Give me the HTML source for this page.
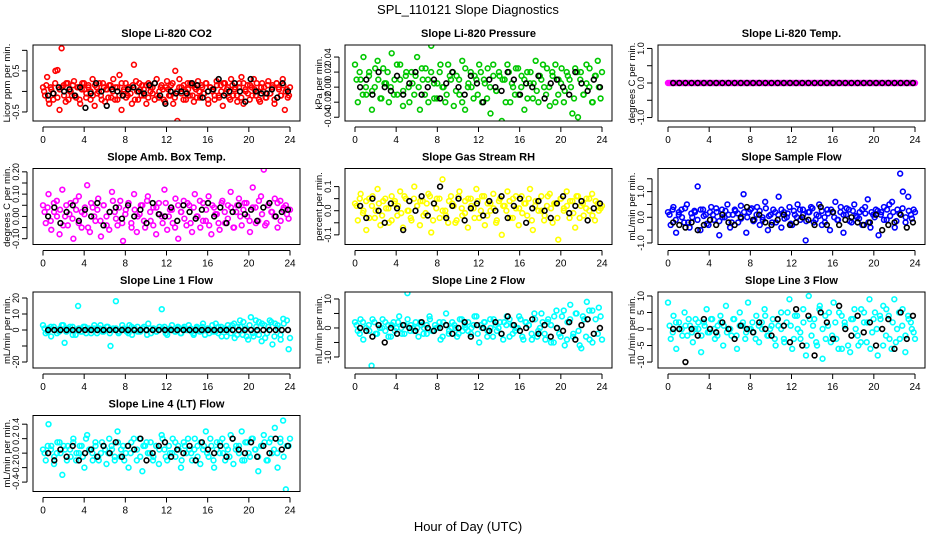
<!DOCTYPE html>
<html><head><meta charset="utf-8"><style>
body{margin:0;background:#fff}
svg{display:block;font-family:"Liberation Sans",sans-serif}
</style></head><body>
<svg id="chart" width="936" height="540" viewBox="0 0 936 540">
<text x="468" y="14" text-anchor="middle" font-size="13">SPL_110121  Slope Diagnostics</text>
<text x="468" y="531" text-anchor="middle" font-size="13">Hour of Day (UTC)</text>
</svg>
<script>
const xTicks=[0,4,8,12,16,20,24];
const co2=[0.1,-0.1,0.35,-0.3,0.05,-0.2,0.5,0.52,-0.45,1.05,0.15,-0.25,0.2,0.0,-0.1,0.25,-0.15,0.1,-0.3,0.2,0.05,-0.05,0.15,-0.2,0.3,-0.35,0.1,0.0,-0.1,0.2,-0.25,0.05,0.15,-0.15,0.3,0.1,-0.2,0.4,-0.45,0.0,0.2,-0.1,0.1,-0.3,0.65,0.25,-0.2,0.05,0.15,-0.1,-0.3,0.2,0.0,0.1,-0.2,0.3,-0.15,0.1,0.05,-0.25,0.25,-0.1,0.15,-0.3,0.5,-0.72,0.3,0.1,-0.2,0.0,0.2,-0.1,0.15,-0.25,0.05,0.25,-0.15,0.1,-0.05,0.2,-0.3,0.1,0.0,-0.2,0.25,-0.1,0.15,-0.35,0.2,0.05,-0.15,0.3,-0.1,0.1,-0.25,0.2,0.35,-0.3,0.05,0.15,-0.2,0.1,0.3,-0.1,0.0,-0.25,0.2,0.1,-0.15,0.25,-0.05,0.15,-0.3,0.2,0.1,-0.1,0.3,-0.45,0.05,-0.1];
const co2b=[0.0,0.15,-0.2,0.1,-0.05,0.2,-0.15,0.05,0.1,-0.1,0.2,-0.2,0.0,0.15,-0.1,0.1,-0.2,0.05,0.2,-0.15,0.1,0.0,-0.1,0.15,-0.05,0.2,-0.2,0.1,0.05,-0.15,0.15,0.0,-0.2,0.1,-0.1,0.2,0.05,-0.15,0.1,-0.05,0.15,-0.2,0.0,0.2,-0.1,0.05,0.15,-0.15,0.1,-0.05,0.2,-0.1,0.0,0.15,-0.2,0.1,0.05,-0.1,0.2,-0.15,0.0,0.1,-0.05,0.15,-0.2,0.05,0.2,-0.1,0.1,-0.15,0.0,0.15,-0.05,0.2,-0.2,0.1,0.05,-0.1,0.15,-0.15,0.0,0.2,-0.05,0.1,-0.2,0.15,0.05,-0.1,0.1,-0.15,0.2,0.0,-0.05,0.15,-0.1,0.05,0.2,-0.2,0.1,0.0,-0.15,0.15,-0.05,0.1,-0.2,0.2,0.05,-0.1,0.15,0.0,-0.15,0.1];
const co2K=[-0.1,-0.05,0.1,0.0,0.05,-0.1,0.1,-0.4,-0.05,0.2,0.0,-0.35,0.05,0.0,-0.1,0.05,0.1,0.0,-0.05,0.15,0.2,-0.1,-0.3,0.0,-0.05,0.0,-0.05,0.2,0.15,-0.15,0.0,0.05,0.3,-0.1,0.0,0.2,0.0,-0.25,0.3,0.0,-0.05,-0.05,0.05,-0.15,0.2,0.0];
const pres=[0.03,-0.02,0.01,0.04,-0.01,0.02,-0.03,0.0,0.035,-0.015,0.025,0.005,-0.02,0.045,0.01,-0.01,0.03,-0.025,0.015,0.0,0.02,-0.01,0.04,-0.03,0.01,0.025,-0.02,0.055,0.005,-0.015,0.02,0.0,-0.02,0.03,0.01,-0.025,0.015,-0.01,0.035,-0.03,0.0,0.02,-0.015,0.01,0.03,-0.02,0.005,0.025,-0.035,0.015,-0.005,0.02,-0.045,0.01,0.03,-0.02,0.0,0.025,-0.01,0.015,-0.03,0.02,0.005,-0.015,0.035,-0.02,0.01,0.0,0.025,-0.025,0.015,0.03,-0.01,0.005,-0.02,0.02,0.01,-0.035,0.025,-0.04,0.02,-0.01,0.03,0.0,-0.02,0.015,0.035,-0.015];
const presb=[0.01,0.02,-0.01,0.0,0.015,-0.005,0.025,0.01,-0.015,0.005,0.02,0.0,-0.01,0.03,0.01,-0.005,0.02,-0.02,0.005,0.015,0.0,0.025,-0.01,0.01,0.02,-0.015,0.005,0.03,0.0,-0.01,0.015,0.02,-0.005,0.01,-0.02,0.025,0.005,0.0,0.015,-0.01,0.02,0.01,-0.015,0.0,0.03,-0.005,0.015,0.01,-0.02,0.02,0.005,-0.01,0.025,0.0,0.01,-0.015,0.02,0.005,-0.005,0.015,0.03,-0.01,0.0,0.02,-0.02,0.01,0.025,-0.005,0.015,0.0,-0.015,0.02,0.01,-0.01,0.005,0.025,-0.02,0.015,0.0,0.02];
const presK=[0.0,0.01,-0.01,0.02,0.0,-0.005,0.015,-0.01,0.005,0.02,-0.01,0.0,0.01,-0.015,0.005,0.02,0.0,-0.01,0.015,0.005,-0.02,0.01,0.0,-0.005,0.02,0.01,-0.01,0.005,0.0,0.015,-0.015,0.005,0.01,0.0,-0.01,0.02,0.005,-0.005,0.01,0.0];
const temp=[0,0,0,0,0,0,0,0,0,0,0,0,0,0,0,0,0,0,0,0,0,0,0,0,0,0,0,0,0,0,0,0,0,0,0,0,0,0,0,0,0,0,0,0,0,0,0,0,0,0,0,0,0,0,0,0,0,0,0,0,0,0,0,0,0,0,0,0,0,0,0,0,0,0,0,0,0,0,0,0];
const tempb=[0,0,0,0,0,0,0,0,0,0,0,0,0,0,0,0,0,0,0,0,0,0,0,0,0,0,0,0,0,0,0,0,0,0,0,0,0,0,0,0,0,0,0,0,0,0,0,0,0,0,0,0,0,0,0,0,0,0,0,0,0,0,0,0,0,0,0,0,0,0,0,0,0,0,0,0,0,0,0,0];
const tempK=[0,0,0,0,0,0,0,0,0,0,0,0,0,0,0,0,0,0,0,0,0,0,0,0,0,0,0,0,0,0,0,0,0,0,0,0,0,0,0,0];
const amb=[0.05,-0.03,0.1,-0.06,0.02,0.07,-0.08,0.12,0.0,-0.04,0.06,-0.1,0.03,0.09,-0.05,0.01,0.14,-0.07,0.04,-0.02,0.08,-0.09,0.05,0.0,-0.06,0.11,0.02,-0.04,0.07,-0.11,0.03,0.06,-0.03,0.1,-0.07,0.01,0.05,-0.05,0.09,-0.02,0.04,-0.08,0.06,0.0,0.12,-0.06,0.03,-0.03,0.08,-0.1,0.02,0.07,-0.04,0.05,-0.07,0.1,0.0,-0.05,0.06,-0.02,0.09,-0.08,0.04,0.01,-0.06,0.07,-0.03,0.05,0.11,-0.05,0.02,0.08,-0.04,0.06,0.0,-0.07,0.13,0.04,-0.02,0.09,0.21,-0.03,0.06,0.02,0.08,-0.05,0.07,0.03,0.05,-0.01];
const ambb=[0.02,0.04,-0.02,0.06,0.0,0.03,-0.04,0.05,0.01,-0.01,0.07,-0.03,0.02,0.04,-0.05,0.06,0.0,0.03,-0.02,0.05,-0.04,0.02,0.07,-0.01,0.04,-0.03,0.01,0.06,-0.05,0.03,0.0,0.05,-0.02,0.07,0.02,-0.04,0.04,0.01,-0.03,0.06,0.0,0.03,-0.05,0.05,0.02,-0.01,0.06,-0.03,0.04,0.0,0.07,-0.02,0.03,-0.04,0.05,0.01,-0.03,0.06,0.02,-0.01,0.04,-0.05,0.05,0.0,0.03,0.06,-0.02,0.04,-0.03,0.07,0.01,-0.04,0.05,0.02,0.0,0.06,-0.02,0.04,0.01,0.03];
const ambK=[0.0,0.04,-0.03,0.02,0.05,-0.02,0.03,0.0,0.06,-0.04,0.02,0.04,-0.01,0.05,0.0,0.03,-0.03,0.06,0.01,0.0,0.04,-0.02,0.05,0.02,-0.01,0.03,0.06,0.0,0.04,-0.03,0.02,0.05,0.01,0.03,-0.02,0.04,0.06,0.0,0.02,0.03];
const rh=[0.03,-0.04,0.07,0.0,-0.08,0.05,0.02,-0.03,0.09,-0.06,0.04,0.01,-0.05,0.06,0.03,-0.02,0.08,-0.07,0.05,0.0,-0.04,0.1,0.02,-0.06,0.04,-0.01,0.07,-0.09,0.03,0.05,-0.03,0.13,0.0,-0.05,0.06,0.02,-0.04,0.08,-0.02,0.04,-0.07,0.05,0.01,0.09,-0.03,0.06,-0.06,0.03,0.0,0.07,-0.05,0.04,-0.1,0.02,0.08,-0.03,0.05,0.01,-0.06,0.06,0.03,-0.02,0.09,-0.08,0.04,0.0,0.06,-0.04,0.02,0.07,-0.05,0.03,-0.12,0.05,0.01,0.08,-0.03,0.04,-0.07,0.06,0.02,-0.02,0.05,0.0,0.07,-0.04,0.03,0.01];
const rhb=[0.02,0.05,-0.01,0.04,-0.03,0.06,0.0,0.03,-0.02,0.05,0.01,-0.04,0.04,0.02,-0.01,0.06,0.0,-0.03,0.05,0.02,0.04,-0.02,0.03,0.06,-0.04,0.01,0.05,0.0,-0.02,0.04,0.03,-0.05,0.06,0.01,-0.01,0.05,0.02,-0.03,0.04,0.0,0.06,-0.02,0.03,0.01,-0.04,0.05,0.02,0.0,0.04,-0.03,0.06,0.01,-0.01,0.03,0.05,-0.04,0.02,0.04,0.0,-0.02,0.06,0.01,0.03,-0.03,0.05,0.0,0.02,0.04,-0.01,0.06,-0.03,0.03,0.01,0.05,-0.02,0.04,0.0,0.02];
const rhK=[0.02,-0.03,0.05,0.0,-0.05,0.03,0.01,-0.08,0.04,0.0,0.06,-0.02,0.03,0.1,-0.03,0.02,0.05,-0.04,0.01,0.03,-0.02,0.04,0.0,0.06,-0.03,0.02,0.05,-0.05,0.01,0.04,0.0,-0.03,0.03,0.06,-0.01,0.02,0.04,-0.04,0.01,0.03];
const flow=[0.2,-0.3,0.4,-0.6,0.1,0.3,-0.2,0.5,-0.4,0.0,0.2,1.2,-0.5,0.3,0.1,-0.3,0.4,-0.1,0.2,-0.7,0.3,0.0,0.5,-0.4,0.1,0.25,-0.2,0.45,0.9,-0.6,0.2,0.35,-0.1,0.4,-0.3,0.0,0.6,-0.5,0.1,0.3,-0.2,0.8,-0.4,0.2,0.0,0.4,-0.3,0.1,0.5,-0.1,0.3,-0.9,0.2,0.4,-0.2,0.1,0.5,-0.3,0.0,0.3,-0.5,0.2,0.6,-0.1,0.4,-0.6,0.1,0.3,-0.2,0.5,0.0,0.2,-0.3,0.4,0.7,-0.4,0.1,0.3,-0.7,0.2,0.4,-0.1,0.5,0.6,-0.4,0.3,1.7,1.0,-0.2,0.8,0.1,0.3];
const flowb=[0.1,0.3,-0.1,0.2,0.0,0.35,-0.2,0.15,0.25,-0.1,0.3,0.05,-0.25,0.2,0.1,0.35,-0.15,0.0,0.25,0.1,-0.2,0.3,0.15,-0.05,0.2,0.0,0.3,-0.15,0.1,0.25,-0.1,0.35,0.05,-0.2,0.2,0.1,0.3,-0.05,0.15,-0.25,0.25,0.0,0.3,0.1,-0.15,0.2,0.35,-0.1,0.05,0.25,-0.2,0.15,0.3,0.0,-0.1,0.2,0.1,0.35,-0.15,0.25,0.05,-0.05,0.3,0.15,-0.2,0.2,0.0,0.25,0.1,-0.1,0.3,0.05,0.2,-0.15,0.15,0.35,0.0,0.25,-0.05,0.2];
const flowK=[-0.2,-0.3,-0.4,-0.2,-0.5,-0.3,-0.1,-0.3,0.1,-0.2,-0.3,0.0,0.4,-0.1,0.1,-0.2,-0.3,-0.1,0.1,-0.3,-0.2,0.0,-0.1,-0.3,0.4,-0.3,0.2,-0.3,-0.1,0.0,-0.2,-0.3,-0.2,0.1,-0.5,-0.3,-0.2,0.1,-0.4,-0.2];
const l1=[3,-2,1,-4,2,0,-1,3,-8,1,2,-3,0,15,-1,2,-2,1,0,3,-2,1,-1,0,2,-10,1,18,-2,0,1,-1,3,-3,0,2,-1,1,0,4,-2,1,-1,0,13,2,-3,1,0,-1,2,-2,1,0,3,-1,-2,1,0,2,-3,1,0,-1,4,-2,2,0,-4,1,3,-5,2,6,-3,1,-6,8,-4,2,5,-7,3,-2,6,-9,4,1,-3,7,28,-12];
const l1b=[1,-1,2,0,-2,1,3,-1,0,2,-3,1,-1,2,0,-2,1,0,3,-1,2,-2,0,1,-1,3,0,-2,2,1,-1,0,2,-3,1,0,-1,2,1,-2,0,3,-1,1,-2,2,0,1,-3,2,-1,4,0,-2,3,-1,2,-4,1,3,-2,4,-3,2,5,-4,3,-2,6,-3,4,-5,2,5,-4,3,-6,4,6,-5];
const l1K=[0,0,0,0,0,0,0,0,0,0,0,0,0,0,0,0,0,0,0,0,0,0,0,0,0,0,0,0,0,0,0,0,0,0,0,0,0,0,0,0];
const l2=[2,-1,3,-4,0,1,-13,2,-2,0,3,-1,1,-3,2,0,4,-2,1,12,-1,0,2,-3,1,0,-2,4,-1,1,0,-4,2,5,-2,0,1,-3,3,-1,0,2,-2,1,4,-5,0,2,-1,3,-3,1,0,-2,2,4,-3,1,-1,0,3,-4,2,1,-2,5,-3,0,2,-4,3,1,-5,6,-2,4,-6,2,8,-3,5,-1,-7,3,9,-4,6,14,-2,4];
const l2b=[1,-2,2,0,-1,3,-2,1,0,2,-3,1,-1,2,0,-2,3,1,-1,0,2,-2,1,3,-1,0,2,-3,1,-1,2,0,-2,3,1,-1,0,4,-2,1,2,-3,0,3,-1,2,-4,1,3,-2,0,4,-3,2,1,-4,3,-1,5,-2,2,-5,4,0,-3,6,-4,3,-2,5,-6,4,-3,6,-5,3,7,-4];
const l2K=[0,-1,-3,1,-5,0,-2,1,0,-1,2,0,-1,0,1,-2,0,2,-3,1,0,-1,2,-2,4,1,-1,0,3,-2,1,-3,0,-1,2,-4,1,3,-2,0];
const l3=[8,-3,4,-6,2,0,5,-2,1,-4,3,0,-7,2,6,-1,3,-3,1,4,-5,7,0,-2,3,-6,5,1,-3,8,0,-1,4,-4,2,6,-2,0,3,-5,1,5,-3,2,9,-6,4,0,-3,6,-8,10,-2,3,-5,7,-9,4,1,-4,8,-3,5,-6,2,12,-7,3,0,-5,6,2,-4,9,-1,5,-8,3,7,-2,4,-6,9,0,-3,6,-7,4,2,-1];
const l3b=[1,-1,2,0,-2,1,3,-1,0,2,-2,1,-1,3,0,-2,2,1,-1,0,3,-2,1,2,-1,0,2,-3,1,0,4,-2,1,-3,3,0,-4,5,1,-3,4,-1,2,-5,3,1,-4,6,0,-3,5,-2,2,-6,4,1,-5,3,6,-2,-4,5,2,-6,3,0,4,-5,6,-3,2,-4,5,1,-2,3,0,-3];
const l3K=[0,0,-10,0,-2,3,0,-1,2,0,-3,1,0,-1,2,0,-2,3,1,-4,6,-5,4,-8,5,2,-3,7,0,-2,4,-1,2,-5,0,3,-6,5,-3,4];
const l4=[0.05,-0.1,0.4,0.1,-0.15,0.0,0.15,-0.3,0.05,0.1,-0.05,0.2,-0.1,0.0,0.1,-0.2,0.25,0.05,-0.1,0.15,-0.05,0.0,0.1,-0.15,0.2,0.05,-0.1,0.3,-0.05,0.1,0.0,-0.2,0.15,0.05,-0.1,0.2,-0.25,0.1,0.0,0.15,-0.05,0.1,-0.15,0.25,0.05,-0.1,0.0,0.2,-0.05,0.1,-0.2,0.15,0.0,0.05,-0.1,0.2,0.1,-0.15,0.05,0.3,-0.05,0.1,-0.2,0.15,0.0,0.2,-0.1,0.05,0.25,-0.15,0.1,0.0,0.3,-0.1,0.15,-0.05,0.2,0.05,-0.25,0.1,0.25,-0.1,0.15,0.0,0.35,-0.2,0.2,0.45,-0.5,0.1];
const l4b=[0.0,0.1,0.05,-0.05,0.15,0.0,0.1,-0.1,0.05,0.15,0.0,0.1,-0.05,0.2,0.05,0.0,0.1,-0.1,0.15,0.05,0.0,0.1,-0.05,0.15,0.05,-0.1,0.1,0.0,0.2,0.05,-0.05,0.1,0.15,0.0,-0.1,0.1,0.05,0.2,-0.05,0.1,0.0,0.15,0.05,-0.1,0.1,0.2,0.0,0.05,-0.05,0.15,0.1,0.0,0.2,-0.1,0.05,0.15,0.0,0.1,-0.05,0.2,0.05,0.1,-0.1,0.15,0.0,0.2,0.05,-0.05,0.1,0.15,-0.1,0.2,0.05,0.0,0.15,-0.05,0.1,0.2];
const l4K=[0.0,-0.1,0.05,-0.05,0.1,-0.1,0.0,0.05,-0.05,0.1,0.0,0.15,-0.05,0.1,0.05,0.2,-0.1,0.0,0.1,0.15,-0.05,0.05,0.0,0.1,-0.1,0.15,0.05,0.0,0.1,-0.05,0.2,0.05,0.0,0.15,-0.05,0.1,0.0,0.2,0.05,0.1];

const panels=[
 {n:'co2',title:'Slope Li-820 CO2',ylab:'Licor ppm per min.',col:'#ff0000',r:[-0.72,1.13],ticks:[-0.5,0,0.5,1.0],labs:['-0.5','','0.5',''],d:[co2,co2b],k:co2K},
 {n:'pressure',title:'Slope Li-820 Pressure',ylab:'kPa per min.',col:'#00c800',r:[-0.045,0.056],ticks:[-0.04,-0.02,0,0.02,0.04],labs:['-0.04','-0.02','0.00','0.02','0.04'],d:[pres,presb],k:presK},
 {n:'temp',title:'Slope Li-820 Temp.',ylab:'degrees C per min.',col:'#ff00ff',r:[-1.1,1.1],ticks:[-1,-0.5,0,0.5,1],labs:['-1.0','','0.0','','1.0'],d:[temp,tempb],k:tempK},
 {n:'amb-box-temp',title:'Slope Amb. Box Temp.',ylab:'degrees C per min.',col:'#ff00ff',r:[-0.126,0.215],ticks:[-0.1,-0.05,0,0.05,0.1,0.15,0.2],labs:['-0.10','','0.00','','0.10','','0.20'],d:[amb,ambb],k:ambK},
 {n:'gas-rh',title:'Slope Gas Stream RH',ylab:'percent per min.',col:'#ffff00',r:[-0.14,0.175],ticks:[-0.1,-0.05,0,0.05,0.1],labs:['-0.1','','0.0','','0.1'],d:[rh,rhb],k:rhK},
 {n:'sample-flow',title:'Slope Sample Flow',ylab:'mL/min per min.',col:'#0000ff',r:[-1.06,1.9],ticks:[-1,-0.5,0,0.5,1,1.5],labs:['-1.0','','0.0','','1.0',''],d:[flow,flowb],k:flowK},
 {n:'line1',title:'Slope Line 1 Flow',ylab:'mL/min per min.',col:'#00ffff',r:[-23.75,23.75],ticks:[-20,-10,0,10,20],labs:['-20','','0','10','20'],d:[l1,l1b],k:l1K},
 {n:'line2',title:'Slope Line 2 Flow',ylab:'mL/min per min.',col:'#00ffff',r:[-13.8,12.4],ticks:[-10,-5,0,5,10],labs:['-10','','0','','10'],d:[l2,l2b],k:l2K},
 {n:'line3',title:'Slope Line 3 Flow',ylab:'mL/min per min.',col:'#00ffff',r:[-11.8,11.2],ticks:[-10,-5,0,5,10],labs:['-10','-5','0','5','10'],d:[l3,l3b],k:l3K},
 {n:'line4',title:'Slope Line 4 (LT) Flow',ylab:'mL/min per min.',col:'#00ffff',r:[-0.53,0.52],ticks:[-0.4,-0.2,0,0.2,0.4],labs:['-0.4','-0.2','0.0','0.2','0.4'],d:[l4,l4b],k:l4K}
];
const NS='http://www.w3.org/2000/svg';
const svg=document.getElementById('chart');
function mk(tag,at,parent){const e=document.createElementNS(NS,tag);for(const a in at)e.setAttribute(a,at[a]);(parent||svg).appendChild(e);return e;}
const colX=[33,345,658], rowY=[45,168.5,292,415.5], W=267, H=76;
panels.forEach((p,i)=>{
  const bx=colX[i%3], by=rowY[Math.floor(i/3)];
  const g=mk('g',{});
  
  
  const xs=t=>bx+10+t/24*(W-20);
  const ys=v=>by+H-(v-p.r[0])/(p.r[1]-p.r[0])*H;
  const cid='clip'+i;
  const cp=mk('clipPath',{id:cid},g);mk('rect',{x:bx,y:by,width:W,height:H},cp);
  const pts=mk('g',{'clip-path':'url(#'+cid+')'},g);
  p.d.forEach((arr,s)=>{
    arr.forEach((v,j)=>{const c=mk('circle',{cx:xs((j+s*0.5)*24/(arr.length-0.5)),cy:ys(v),r:2.4,fill:'none',stroke:p.col,'stroke-width':1.6},pts);
      
      });
  });
  p.k.forEach((v,j)=>{const c=mk('circle',{cx:xs(0.5+j*23.3/(p.k.length-1)),cy:ys(v),r:2.4,fill:'none',stroke:'#000','stroke-width':1.6},pts);
    
    });
  const box=mk('rect',{x:bx,y:by,width:W,height:H,fill:'none',stroke:'#000','stroke-width':1},g);
  
  
  const tt=mk('text',{x:bx+W/2,y:by-8,'text-anchor':'middle','font-size':11,'font-weight':'bold'},g);tt.textContent=p.title;
  
  
  mk('line',{x1:xs(0),x2:xs(24),y1:by+H+6,y2:by+H+6,stroke:'#000'},g);
  xTicks.forEach(t=>{mk('line',{x1:xs(t),x2:xs(t),y1:by+H+6,y2:by+H+11,stroke:'#000'},g);
    const l=mk('text',{x:xs(t),y:by+H+22,'text-anchor':'middle','font-size':10},g);l.textContent=t;
    
    });
  const ax=bx-6;
  mk('line',{x1:ax,x2:ax,y1:ys(p.ticks[0]),y2:ys(p.ticks[p.ticks.length-1]),stroke:'#000'},g);
  p.ticks.forEach((t,j)=>{mk('line',{x1:ax-5,x2:ax,y1:ys(t),y2:ys(t),stroke:'#000'},g);
    if(p.labs[j]){const l=mk('text',{x:0,y:0,'text-anchor':'middle','font-size':9,transform:`translate(${ax-8},${ys(t)}) rotate(-90)`},g);l.textContent=p.labs[j];
    
    }});
  const yl=mk('text',{x:0,y:0,'text-anchor':'middle','font-size':9.5,transform:`translate(${bx-23},${by+H/2}) rotate(-90)`},g);yl.textContent=p.ylab;
  
  
});
</script>
</body></html>
